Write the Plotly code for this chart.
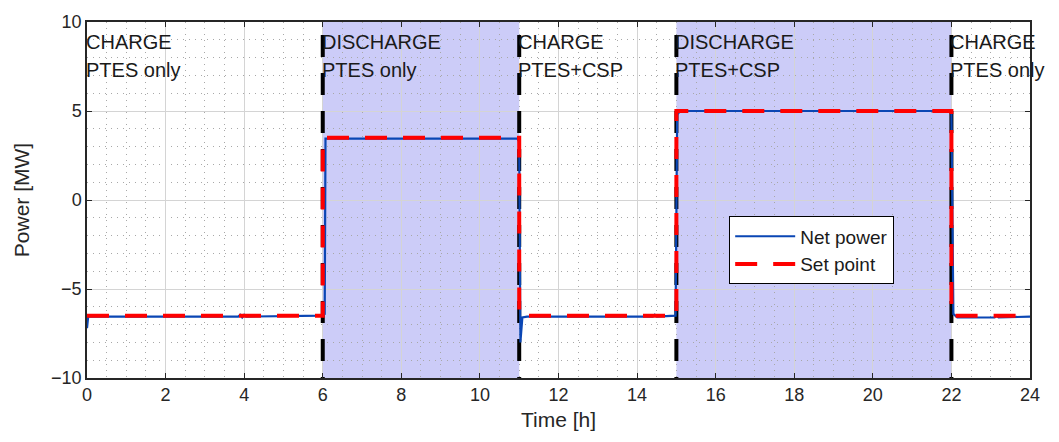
import plotly.graph_objects as go

# ---- data ----
set_t = [0, 6, 6, 11, 11, 15, 15, 22, 22, 24]
set_p = [-6.5, -6.5, 3.5, 3.5, -6.5, -6.5, 5.0, 5.0, -6.5, -6.5]

net_t = [0, 0.03, 3.85, 3.9, 3.95, 4.0, 4.05, 6.0, 6.05, 6.07, 10.95, 11.0, 11.03,
         11.08, 11.2, 14.4, 14.45, 14.5, 14.98, 15.02, 15.1, 21.97, 22.0, 22.05,
         22.15, 23.1, 23.15, 23.2, 24]
net_p = [-7.2, -6.55, -6.55, -6.45, -6.6, -6.45, -6.55, -6.5, -6.4, 3.45, 3.45, 3.3, -8.0,
         -6.6, -6.55, -6.55, -6.45, -6.55, -6.5, 4.8, 5.0, 5.0, 4.9, -6.4,
         -6.6, -6.6, -6.5, -6.6, -6.55]

switch_t = [6, 11, 15, 22]
discharge_start = [6, 15]
discharge_end = [11, 22]

label_x = [0, 6, 11, 15, 22]
label_mode = ["CHARGE", "DISCHARGE", "CHARGE", "DISCHARGE", "CHARGE"]
label_src = ["PTES only", "PTES only", "PTES+CSP", "PTES+CSP", "PTES only"]

x_ticks = list(range(0, 25, 2))
y_ticks = [-10, -5, 0, 5, 10]

FONT = "Liberation Sans, Arial, sans-serif"

fig = go.Figure()

# black dashed switching lines
for i, t in enumerate(switch_t):
    fig.add_trace(go.Scatter(x=[t, t], y=[10, -10], mode="lines",
                             line=dict(color="black", width=4, dash="0px,13px,22px,3px"),
                             showlegend=False, hoverinfo="skip"))

fig.add_trace(go.Scatter(x=net_t, y=net_p, mode="lines", name="Net power",
                         line=dict(color="#0a46b4", width=2.2)))
fig.add_trace(go.Scatter(x=set_t, y=set_p, mode="lines", name="Set point",
                         line=dict(color="#ff0000", width=4, dash="22px,16px")))

shapes = []
for a, b in zip(discharge_start, discharge_end):
    shapes.append(dict(type="rect", xref="x", yref="y", x0=a, x1=b, y0=-10, y1=10,
                       fillcolor="rgb(204,204,248)", line=dict(width=0), layer="below"))

annotations = []
for x, m, s in zip(label_x, label_mode, label_src):
    annotations.append(dict(x=x, y=8.85, xref="x", yref="y", text=m, showarrow=False,
                            xanchor="left", yanchor="middle", borderpad=0, xshift=-2,
                            font=dict(family=FONT, size=20, color="#1a1a1a")))
    annotations.append(dict(x=x, y=7.3, xref="x", yref="y", text=s, showarrow=False,
                            xanchor="left", yanchor="middle", borderpad=0, xshift=-2,
                            font=dict(family=FONT, size=20, color="#1a1a1a")))

fig.update_layout(
    width=1059, height=442,
    margin=dict(l=87, r=29, t=19, b=64),
    paper_bgcolor="white", plot_bgcolor="white",
    shapes=shapes, annotations=annotations,
    font=dict(family=FONT, size=18, color="#262626"),
    legend=dict(x=0.681, y=0.454, xanchor="left", yanchor="top",
                bgcolor="white", bordercolor="black", borderwidth=1,
                font=dict(family=FONT, size=19, color="#1a1a1a"),
                tracegroupgap=0, itemwidth=60),
    showlegend=True,
)

fig.update_xaxes(range=[0, 24], tickvals=x_ticks, ticks="inside", ticklen=5,
                 tickcolor="#262626", showline=True, linecolor="#262626", linewidth=1.5,
                 mirror="ticks", showgrid=True, gridcolor="#d4d4d4", gridwidth=1,
                 zeroline=False,
                 minor=dict(dtick=0.5, tick0=0, showgrid=True, gridcolor="#a8a8a8",
                            griddash="1px,5px", gridwidth=1, ticks=""),
                 title=dict(text="Time [h]", font=dict(size=21), standoff=8),
                 tickfont=dict(size=18))
fig.update_yaxes(range=[-10, 10], tickvals=y_ticks, ticks="inside", ticklen=5,
                 tickcolor="#262626", showline=True, linecolor="#262626", linewidth=1.5,
                 mirror="ticks", showgrid=True, gridcolor="#d4d4d4", gridwidth=1,
                 zeroline=False,
                 minor=dict(dtick=1, tick0=0, showgrid=True, gridcolor="#a8a8a8",
                            griddash="1px,5px", gridwidth=1, ticks=""),
                 title=dict(text="Power [MW]", font=dict(size=21), standoff=16),
                 tickfont=dict(size=18))

fig.write_html("out.html")
